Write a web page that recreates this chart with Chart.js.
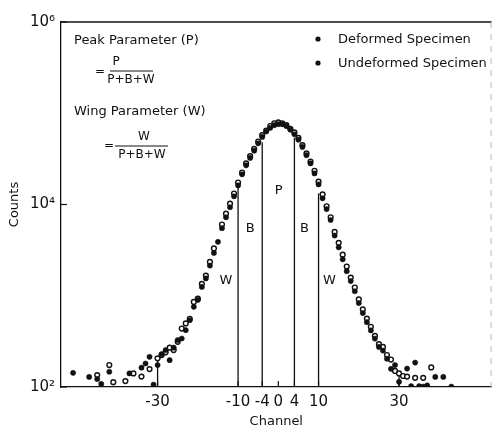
<!DOCTYPE html>
<html>
<head>
<meta charset="utf-8">
<script src="https://cdn.jsdelivr.net/npm/chart.js"></script>
<style>
  html, body { margin: 0; padding: 0; background: #fff; }
  #box { width: 497px; height: 433px; }
</style>
</head>
<body>
<div id="box"><canvas id="myChart"></canvas></div>
<script>
// Dados (contagens por canal)
const defChannels = [-51, -47, -45, -44, -42, -37, -34, -33, -32, -31, -30, -29, -28, -27, -26, -25, -24, -23, -22, -21, -20, -19, -18, -17, -16, -15,
  -14, -13, -12, -11, -10, -9, -8, -7, -6, -5, -4, -3, -2, -1, 0, 1, 2, 3, 4, 5, 6, 7, 8, 9, 10, 11, 12, 13, 14, 15, 16, 17, 18, 19, 20,
  21, 22, 23, 24, 25, 26, 27, 28, 29, 30, 32, 33, 34, 35, 36, 37, 39, 41, 43];
const deformed = [143, 129, 122, 108, 147, 141, 163, 181, 214, 106, 174, 230, 254, 197, 270, 327, 340, 420, 540, 756, 900, 1250, 1550, 2140, 2950, 3900,
  5500, 7240, 9330, 12300, 16200, 21400, 26900, 32400, 38900, 46800, 55000, 63100, 69200, 74100, 75900, 75900, 72400, 66100, 58900, 51300, 42700, 34700, 28200, 21900, 16600,
  11700, 8910, 6760, 4570, 3390, 2510, 1860, 1450, 1120, 832,
  646, 513, 417, 339, 275, 251, 204, 158, 174, 114, 159, 102, 185, 102, 101, 104, 129, 129, 101];

const undefChannels = [-45, -42, -41, -38, -36, -34, -32, -30, -29, -28, -27, -26, -25, -24, -23, -22, -21, -20, -19, -18, -17, -16,
  -14, -13, -12, -11, -10, -9, -8, -7, -6, -5, -4, -3, -2, -1, 0, 1, 2, 3, 4, 5, 6, 7, 8, 9, 10, 11, 12, 13, 14, 15, 16, 17, 18, 19, 20,
  21, 22, 23, 24, 25, 26, 27, 28, 29, 30, 31, 32, 34, 36, 38];
const undeformed = [135, 174, 113, 116, 141, 130, 157, 206, 224, 240, 270, 254, 313, 437, 498, 560, 855, 930, 1350, 1660, 2350, 3300,
  6030, 7940, 10200, 13200, 17400, 22400, 28200, 33900, 40700, 49000, 57500, 64600, 72400, 77600, 79400, 77600, 74100, 67600, 61700, 53700, 44700, 36300, 29500, 23400, 17800,
  12900, 9550, 7240, 5010, 3800, 2820, 2090, 1580, 1230, 912,
  708, 562, 457, 363, 295, 275, 224, 200, 150, 141, 132, 130, 126, 126, 164];

// Limites das regioes P, B e W (canal e altura da linha)
const boundaryChannels = [-30, -10, -4, 4, 10, 30];
const boundaryTops = [210, 16200, 48000, 54000, 13200, 141];

const xTicks = [-30, -10, -4, 0, 4, 10, 30];
const yTicks = [100, 10000, 1000000];
const yTickLabels = ['10²', '10⁴', '10⁶'];

const FONT = '"DejaVu Sans", sans-serif';
const INK = '#111';

function pts(xs, ys) {
  return xs.map((x, i) => ({ x: x, y: ys[i] }));
}

const lineSets = boundaryChannels.map((c, i) => ({
  type: 'line',
  label: 'limite ' + c,
  data: [{ x: c, y: 100 }, { x: c, y: boundaryTops[i] }],
  borderColor: INK,
  borderWidth: 1.3,
  pointRadius: 0,
  fill: false
}));

// Textos e moldura desenhados por cima do grafico
const extras = {
  id: 'extras',
  afterDatasetsDraw(chart) {
    const ctx = chart.ctx;
    const a = chart.chartArea;
    const xs = chart.scales.x;
    const ys = chart.scales.y;
    ctx.save();
    ctx.strokeStyle = INK;
    ctx.lineWidth = 1.3;
    ctx.beginPath();
    ctx.moveTo(a.left, a.top);
    ctx.lineTo(a.right, a.top);
    ctx.stroke();
    // borda direita fraca
    ctx.strokeStyle = '#bbb';
    ctx.lineWidth = 1;
    ctx.setLineDash([6, 6]);
    ctx.beginPath();
    ctx.moveTo(a.right - 0.5, a.top);
    ctx.lineTo(a.right - 0.5, a.bottom);
    ctx.stroke();
    ctx.setLineDash([]);

    // ticks para dentro
    ctx.strokeStyle = INK;
    ctx.lineWidth = 1.2;
    xTicks.forEach(v => {
      const px = xs.getPixelForValue(v);
      ctx.beginPath();
      ctx.moveTo(px, a.bottom);
      ctx.lineTo(px, a.bottom - 6);
      ctx.stroke();
    });
    yTicks.forEach(v => {
      const py = ys.getPixelForValue(v);
      ctx.beginPath();
      ctx.moveTo(a.left, py);
      ctx.lineTo(a.left + 6, py);
      ctx.stroke();
    });

    ctx.fillStyle = INK;
    ctx.textBaseline = 'middle';
    ctx.font = '13px ' + FONT;
    ctx.textAlign = 'left';
    ctx.fillText('Peak Parameter (P)', 74, 41);
    ctx.fillText('Wing Parameter (W)', 74, 112);

    // fracoes
    ctx.font = '12px ' + FONT;
    ctx.textAlign = 'center';
    ctx.fillText('=', 100, 72);
    ctx.fillText('P', 116, 62);
    ctx.fillText('P+B+W', 131, 80);
    ctx.fillText('=', 109, 146);
    ctx.fillText('W', 144, 137);
    ctx.fillText('P+B+W', 142, 155);
    ctx.lineWidth = 1;
    ctx.beginPath();
    ctx.moveTo(110, 71); ctx.lineTo(153, 71);
    ctx.moveTo(115, 146); ctx.lineTo(168, 146);
    ctx.stroke();

    // letras das regioes
    ctx.font = '13px ' + FONT;
    const tags = [['W', -13, 1480], ['B', -7, 5500], ['P', 0.1, 14100], ['B', 6.5, 5500], ['W', 12.7, 1480]];
    tags.forEach(t => {
      ctx.fillText(t[0], xs.getPixelForValue(t[1]), ys.getPixelForValue(t[2]));
    });

    // legenda
    ctx.textAlign = 'left';
    ctx.font = '13px ' + FONT;
    const leg = [['Deformed Specimen', 39], ['Undeformed Specimen', 63]];
    leg.forEach(l => {
      ctx.beginPath();
      ctx.arc(318, l[1], 2.6, 0, Math.PI * 2);
      ctx.fill();
      ctx.fillText(l[0], 338, l[1] + 1);
    });
    ctx.restore();
  }
};

const Grafico = document.getElementById('myChart');
new Chart(Grafico, {
  type: 'scatter',
  data: {
    datasets: [
      {
        label: 'Deformed Specimen',
        data: pts(defChannels, deformed),
        pointRadius: 2.6,
        pointBackgroundColor: INK,
        pointBorderColor: INK,
        pointBorderWidth: 0.5
      },
      {
        label: 'Undeformed Specimen',
        data: pts(undefChannels, undeformed),
        pointRadius: 2.4,
        pointBackgroundColor: '#fff',
        pointBorderColor: INK,
        pointBorderWidth: 1.4
      }
    ].concat(lineSets)
  },
  options: {
    responsive: true,
    maintainAspectRatio: false,
    animation: false,
    layout: { padding: { top: 22, right: 1, left: 0, bottom: 0 } },
    plugins: {
      legend: { display: false },
      tooltip: { enabled: false }
    },
    scales: {
      x: {
        type: 'linear',
        min: -54,
        max: 53,
        afterBuildTicks: s => { s.ticks = xTicks.map(v => ({ value: v })); },
        afterFit: s => { s.height = 46; },
        grid: { display: false, drawTicks: false },
        border: { display: true, color: INK, width: 1.3 },
        ticks: { color: INK, font: { family: FONT, size: 15 }, padding: 6, maxRotation: 0, autoSkip: false },
        title: { display: true, text: 'Channel', color: INK, font: { family: FONT, size: 13 }, padding: { top: 0, bottom: 4 } }
      },
      y: {
        type: 'logarithmic',
        min: 100,
        max: 1000000,
        afterBuildTicks: s => { s.ticks = yTicks.map(v => ({ value: v })); },
        afterFit: s => { s.width = 61; },
        grid: { display: false, drawTicks: false },
        border: { display: true, color: INK, width: 1.3 },
        ticks: {
          color: INK,
          font: { family: FONT, size: 15 },
          padding: 6,
          callback: (v) => yTickLabels[yTicks.indexOf(v)]
        },
        title: { display: true, text: 'Counts', color: INK, font: { family: FONT, size: 13 }, padding: { top: 7, bottom: 2 } }
      }
    }
  },
  plugins: [extras]
});
</script>
</body>
</html>
